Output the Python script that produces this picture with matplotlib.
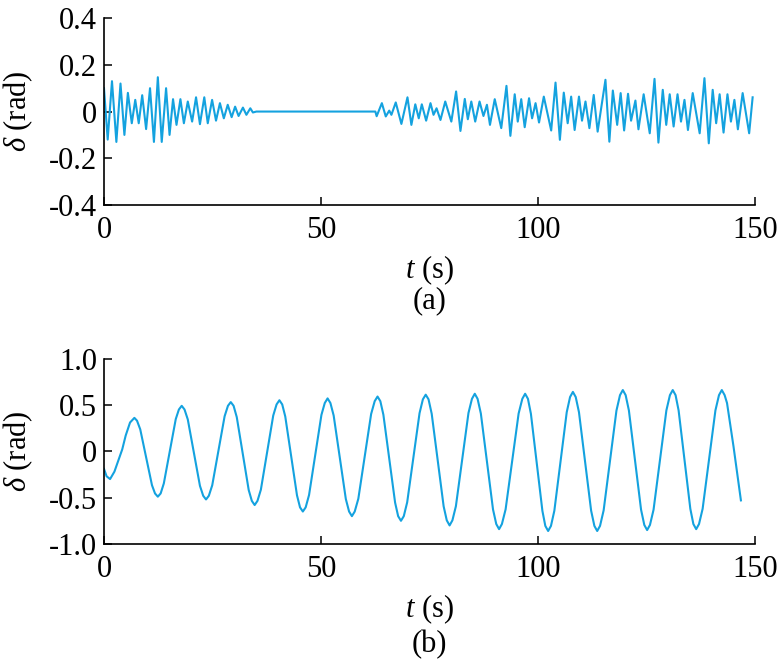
import matplotlib
matplotlib.use("Agg")
import matplotlib.pyplot as plt

# panel (a): peaks/troughs
ta = [0.0, 0.85, 1.84, 2.85, 3.8, 4.7, 5.5, 6.4, 7.2, 8.0, 8.8, 9.7, 10.6, 11.5, 12.4, 13.3,
      14.3, 15.1, 15.9, 16.7, 17.6, 18.4, 19.3, 20.3, 21.2, 22.1, 23.1, 23.9, 24.9, 25.8,
      26.7, 27.6, 28.5, 29.4, 30.2, 31.0, 32.0, 32.8, 33.7, 34.3, 35.1, 62.5, 62.8,
      64.0, 64.9, 65.7, 66.2, 67.2, 68.5, 69.9, 70.8, 71.7, 72.5, 73.2, 74.2, 75.2, 75.9,
      76.6, 77.5, 78.6, 80.0, 81.1, 82.1, 83.1, 83.8, 84.6, 85.5, 86.5, 87.4, 88.2, 88.9,
      90.0, 91.5, 92.7, 93.6, 94.6, 95.3, 96.1, 96.9, 97.9, 98.6, 99.4, 100.2, 101.3,
      103.0, 104.0, 105.0, 105.9, 106.8, 107.6, 108.4, 109.4, 110.1, 110.9, 111.8, 112.8,
      113.7, 115.5, 116.4, 117.2, 118.2, 119.0, 119.8, 120.7, 121.4, 122.4, 123.1, 124.3,
      125.7, 126.8, 127.7, 128.7, 129.5, 130.3, 131.2, 132.1, 132.9, 133.7, 134.5, 135.6,
      137.2, 138.3, 139.3, 140.2, 141.0, 141.8, 142.7, 143.6, 144.4, 145.2, 146.0, 147.1,
      148.6, 149.4]
da = [0.10, -0.12, 0.13, -0.13, 0.12, -0.10, 0.08, -0.05, 0.05, -0.05, 0.07, -0.075, 0.10,
      -0.13, 0.147, -0.13, 0.10, -0.10, 0.053, -0.057, 0.053, -0.05, 0.043, -0.043, 0.061,
      -0.054, 0.061, -0.05, 0.05, -0.039, 0.036, -0.029, 0.029, -0.024, 0.021, -0.019,
      0.017, -0.014, 0.014, -0.004, 0.0, 0.0, -0.02,
      0.036, -0.021, 0.004, -0.014, 0.039, -0.053, 0.061, -0.057, 0.031, -0.029, 0.031,
      -0.039, 0.036, -0.014, 0.014, -0.036, 0.043, -0.043, 0.086, -0.083, 0.054, -0.033,
      0.043, -0.043, 0.043, -0.019, 0.029, -0.057,
      0.053, -0.071, 0.11, -0.104, 0.074, -0.043, 0.053, -0.067, 0.057, -0.029, 0.036,
      -0.047, 0.064, -0.081, 0.124, -0.121, 0.081, -0.05, 0.064, -0.079, 0.064, -0.039,
      0.043, -0.071, 0.071, -0.086, 0.136, -0.129, 0.09, -0.057, 0.079, -0.081, 0.076,
      -0.039, 0.047, -0.076, 0.074, -0.093, 0.14, -0.133, 0.093, -0.057, 0.074, -0.064,
      0.074, -0.043, 0.05, -0.079, 0.079, -0.093, 0.143, -0.136, 0.093, -0.05, 0.074,
      -0.09, 0.074, -0.043, 0.05, -0.076, 0.079, -0.093, 0.061]

# panel (b): points
tb = [0.0, 0.6, 1.4, 2.4, 3.6, 4.2, 5.0, 6.0, 7.0,
      8.35, 9.7, 11.05, 12.4, 13.78, 15.15, 16.53, 17.9, 19.3, 20.7, 22.1, 23.5,
      24.93, 26.35, 27.78, 29.2, 30.58, 31.95, 33.33, 34.7, 36.13, 37.55, 38.98, 40.4,
      41.75, 43.1, 44.45, 45.8, 47.23, 48.65, 50.08, 51.5, 52.9, 54.3, 55.7, 57.1,
      58.58, 60.05, 61.53, 63.0, 64.35, 65.7, 67.05, 68.4, 69.83, 71.25, 72.68, 74.1,
      75.48, 76.85, 78.23, 79.6, 81.05, 82.5, 83.95, 85.4, 86.8, 88.2, 89.6, 91.0,
      92.5, 94.0, 95.5, 97.0, 98.33, 99.65, 100.98, 102.3, 103.73, 105.15, 106.58, 108.0,
      109.4, 110.8, 112.2, 113.6, 115.08, 116.55, 118.03, 119.5, 120.9, 122.3, 123.7, 125.1,
      126.58, 128.05, 129.53, 131.0, 132.35, 133.7, 135.05, 136.4, 137.88, 139.35, 140.83,
      142.3, 143.5, 145.0, 146.7]
db = [-0.19, -0.27, -0.30, -0.22, -0.06, 0.02, 0.17, 0.31, 0.36,
      0.236, -0.065, -0.366, -0.49, -0.347, 0.0, 0.347, 0.49, 0.343, -0.015, -0.373, -0.52,
      -0.367, 0.005, 0.377, 0.53, 0.368, -0.025, -0.418, -0.58, -0.415, -0.015, 0.385, 0.55,
      0.375, -0.05, -0.475, -0.65, -0.472, -0.04, 0.392, 0.57, 0.385, -0.065, -0.515, -0.70,
      -0.512, -0.055, 0.402, 0.59, 0.394, -0.08, -0.554, -0.75, -0.551, -0.07, 0.411, 0.61,
      0.404, -0.095, -0.594, -0.80, -0.593, -0.09, 0.413, 0.62, 0.407, -0.11, -0.627, -0.84,
      -0.627, -0.11, 0.407, 0.62, 0.404, -0.12, -0.644, -0.86, -0.641, -0.11, 0.421, 0.64,
      0.421, -0.11, -0.641, -0.86, -0.638, -0.10, 0.438, 0.66, 0.44, -0.095, -0.63, -0.85,
      -0.63, -0.095, 0.44, 0.66, 0.44, -0.09, -0.621, -0.84, -0.621, -0.09, 0.441,
      0.66, 0.52, 0.05, -0.53]
# extra points read just beside each crest / trough of panel (b)
tb_flank = [7.6, 11.75, 13.05, 17.25, 18.55, 22.85, 24.15, 28.55, 29.85, 34.05, 35.35,
            39.75, 41.05, 45.15, 46.45, 50.85, 52.15, 56.45, 57.75, 62.35, 63.65, 67.75,
            69.05, 73.45, 74.75, 78.95, 80.25, 84.75, 86.05, 90.35, 91.65, 96.35, 97.65,
            101.65, 102.95, 107.35, 108.65, 112.95, 114.25, 118.85, 120.15, 124.45, 125.75,
            130.35, 131.65, 135.75, 137.05, 141.65, 142.95]
db_flank = [0.33, -0.455, -0.455, 0.45, 0.45, -0.48, -0.48, 0.49, 0.49, -0.535, -0.535,
            0.505, 0.505, -0.605, -0.605, 0.52, 0.52, -0.65, -0.65, 0.54, 0.54, -0.70,
            -0.70, 0.56, 0.56, -0.745, -0.745, 0.565, 0.565, -0.785, -0.785, 0.565, 0.565,
            -0.805, -0.805, 0.585, 0.585, -0.805, -0.805, 0.605, 0.605, -0.795, -0.795,
            0.605, 0.605, -0.785, -0.785, 0.605, 0.605]

xticks = [0, 50, 100, 150]
yticks_a = [0.4, 0.2, 0, -0.2, -0.4]
ylabels_a = ["0.4", "0.2", "0", "-0.2", "-0.4"]
yticks_b = [1.0, 0.5, 0, -0.5, -1.0]
ylabels_b = ["1.0", "0.5", "0", "-0.5", "-1.0"]

plt.rcParams['font.family'] = 'Liberation Serif'
plt.rcParams['mathtext.fontset'] = 'custom'
plt.rcParams['mathtext.rm'] = 'Liberation Serif'
plt.rcParams['mathtext.it'] = 'Liberation Serif:italic'
plt.rcParams['axes.unicode_minus'] = False

col = '#14a2df'
fs = 22

fig = plt.figure(figsize=(7.79, 6.71), dpi=100)
axa = fig.add_axes([0.1335, 0.6945, 0.836, 0.2785])
axb = fig.add_axes([0.1335, 0.1893, 0.836, 0.2764])

def style(ax, ticks, labels, lim):
	ax.set_xlim(0, 150)
	ax.set_ylim(lim)
	ax.set_xticks(xticks)
	ax.set_xticklabels([str(v) for v in xticks])
	ax.set_yticks(ticks)
	ax.set_yticklabels(labels)
	for s in ['top', 'right']:
		ax.spines[s].set_visible(False)
	for s in ['left', 'bottom']:
		ax.spines[s].set_linewidth(1.2)
	ax.tick_params(direction='in', length=6, width=1.1, labelsize=fs)
	ax.tick_params(axis='x', pad=8)
	ax.tick_params(axis='y', pad=5)
	ax.set_xlabel(r'$t$ (s)', fontsize=fs, labelpad=6)
	ax.set_ylabel(r'$\delta$ (rad)', fontsize=fs, labelpad=10)

axa.plot(ta, da, color=col, lw=1.5, solid_joinstyle='round')
style(axa, yticks_a, ylabels_a, (-0.4, 0.4))
axa.text(0.5, -0.51, '(a)', transform=axa.transAxes, ha='center', va='center', fontsize=fs)

ptsb = sorted(zip(tb + tb_flank, db + db_flank))
axb.plot([p[0] for p in ptsb], [p[1] for p in ptsb], color=col, lw=1.5, solid_joinstyle='round')
style(axb, yticks_b, ylabels_b, (-1.0, 1.0))
axb.text(0.5, -0.545, '(b)', transform=axb.transAxes, ha='center', va='center', fontsize=fs)

fig.savefig('out.png', dpi=100)
